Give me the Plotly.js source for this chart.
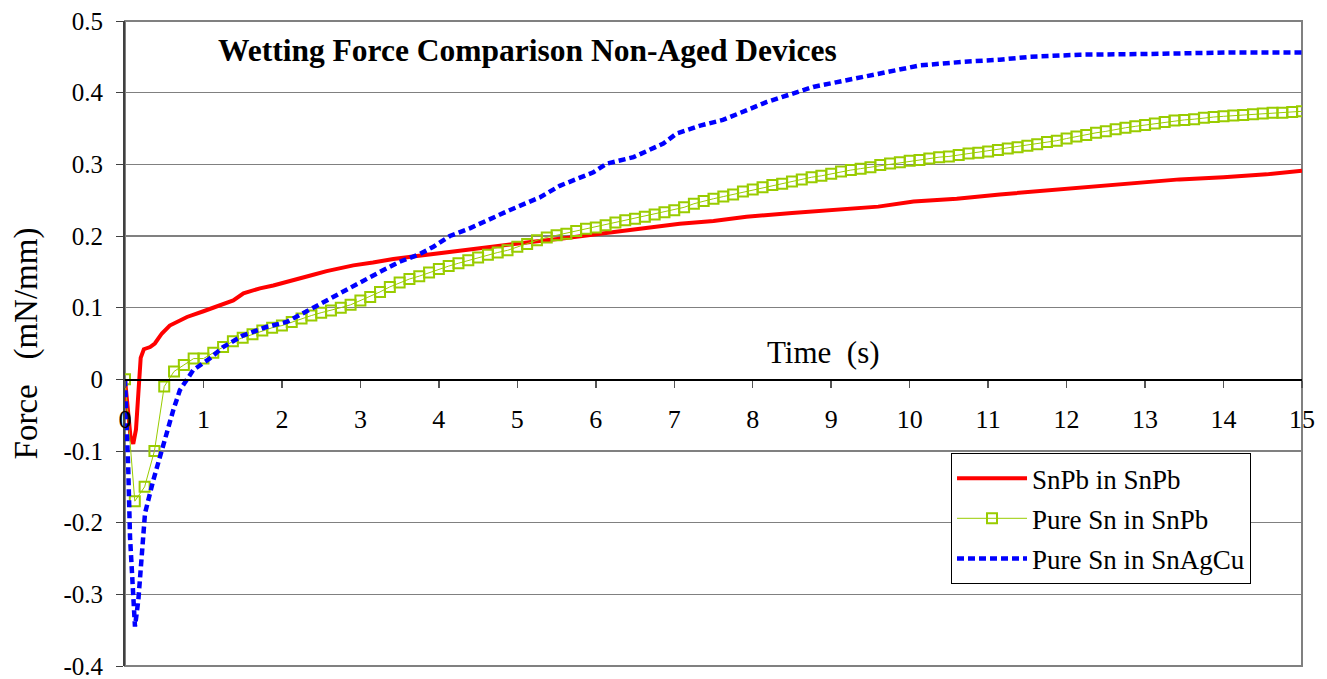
<!DOCTYPE html>
<html>
<head>
<meta charset="utf-8">
<script src="https://cdn.plot.ly/plotly-3.0.1.min.js"></script>
<style>html,body{margin:0;padding:0;background:#fff;}#chart{width:1327px;height:679px;}</style>
</head>
<body>
<div id="chart"></div>
<script>
// SnPb in SnPb
var snpbT = [0, 0.03, 0.07, 0.105, 0.14, 0.17, 0.2, 0.24, 0.32, 0.38, 0.47, 0.57, 0.7, 0.79, 1.0, 1.21, 1.38, 1.51, 1.72, 1.89, 2.14, 2.4, 2.57, 2.91, 3.16, 3.42, 3.72, 4.0, 4.4, 4.78, 5.2, 5.6, 6.05, 6.5, 7.07, 7.5, 7.92, 8.5, 9.2, 9.6, 10.05, 10.6, 11.15, 11.6, 12.17, 12.8, 13.44, 14.0, 14.55, 15.0];
var snpbF = [0, -0.04, -0.08, -0.09, -0.07, -0.02, 0.03, 0.042, 0.045, 0.05, 0.064, 0.075, 0.082, 0.087, 0.095, 0.104, 0.110, 0.120, 0.127, 0.131, 0.139, 0.146, 0.151, 0.159, 0.163, 0.168, 0.172, 0.176, 0.181, 0.187, 0.192, 0.197, 0.203, 0.209, 0.217, 0.221, 0.227, 0.232, 0.238, 0.241, 0.248, 0.252, 0.258, 0.262, 0.268, 0.273, 0.279, 0.282, 0.286, 0.291];

// Pure Sn in SnPb (sampled every 0.125 s)
var snT = [0,0.125,0.25,0.375,0.5,0.625,0.75,0.875,1,1.125,1.25,1.375,1.5,1.625,1.75,1.875,2,2.125,2.25,2.375,2.5,2.625,2.75,2.875,3,3.125,3.25,3.375,3.5,3.625,3.75,3.875,4,4.125,4.25,4.375,4.5,4.625,4.75,4.875,5,5.125,5.25,5.375,5.5,5.625,5.75,5.875,6,6.125,6.25,6.375,6.5,6.625,6.75,6.875,7,7.125,7.25,7.375,7.5,7.625,7.75,7.875,8,8.125,8.25,8.375,8.5,8.625,8.75,8.875,9,9.125,9.25,9.375,9.5,9.625,9.75,9.875,10,10.125,10.25,10.375,10.5,10.625,10.75,10.875,11,11.125,11.25,11.375,11.5,11.625,11.75,11.875,12,12.125,12.25,12.375,12.5,12.625,12.75,12.875,13,13.125,13.25,13.375,13.5,13.625,13.75,13.875,14,14.125,14.25,14.375,14.5,14.625,14.75,14.875,15];
var snF = [0,-0.170,-0.150,-0.100,-0.010,0.011,0.020,0.029,0.029,0.037,0.045,0.053,0.058,0.063,0.068,0.072,0.075,0.080,0.085,0.089,0.093,0.096,0.100,0.104,0.110,0.115,0.122,0.129,0.135,0.140,0.144,0.149,0.154,0.158,0.162,0.166,0.170,0.174,0.177,0.180,0.185,0.189,0.194,0.198,0.201,0.203,0.207,0.210,0.212,0.215,0.219,0.222,0.224,0.227,0.230,0.233,0.236,0.240,0.245,0.249,0.252,0.255,0.258,0.262,0.265,0.268,0.271,0.273,0.276,0.279,0.282,0.284,0.287,0.290,0.292,0.294,0.296,0.299,0.301,0.303,0.305,0.306,0.308,0.310,0.311,0.313,0.315,0.316,0.318,0.320,0.322,0.324,0.326,0.328,0.331,0.333,0.336,0.339,0.341,0.344,0.346,0.349,0.351,0.353,0.355,0.357,0.359,0.361,0.362,0.363,0.365,0.366,0.367,0.368,0.369,0.370,0.371,0.372,0.372,0.373,0.374];

// Pure Sn in SnAgCu
var sacT = [0, 0.022, 0.042, 0.064, 0.098, 0.127, 0.17, 0.2, 0.255, 0.36, 0.468, 0.615, 0.7, 0.87, 1.08, 1.25, 1.5, 1.8, 2.06, 2.28, 2.49, 2.91, 3.25, 3.5, 3.76, 3.93, 4.14, 4.4, 4.65, 4.9, 5.29, 5.54, 5.97, 6.14, 6.48, 6.86, 7.03, 7.33, 7.62, 8.18, 8.77, 9.2, 9.7, 10.13, 10.68, 11.15, 11.53, 12.17, 13.02, 14.08, 15.0];
var sacF = [0, -0.057, -0.127, -0.22, -0.29, -0.345, -0.308, -0.257, -0.187, -0.141, -0.099, -0.043, -0.015, 0.013, 0.029, 0.045, 0.061, 0.073, 0.080, 0.093, 0.106, 0.131, 0.150, 0.164, 0.175, 0.185, 0.200, 0.211, 0.224, 0.236, 0.254, 0.270, 0.289, 0.301, 0.310, 0.329, 0.343, 0.354, 0.362, 0.387, 0.408, 0.417, 0.429, 0.438, 0.443, 0.446, 0.450, 0.453, 0.454, 0.456, 0.456];

var xTickVals = [0,1,2,3,4,5,6,7,8,9,10,11,12,13,14,15];
var xTickText = ["0","1","2","3","4","5","6","7","8","9","10","11","12","13","14","15"];
var yTickVals = [0.5,0.4,0.3,0.2,0.1,0,-0.1,-0.2,-0.3,-0.4];
var yTickText = ["0.5","0.4","0.3","0.2","0.1","0","-0.1","-0.2","-0.3","-0.4"];

var seriesNames = ["SnPb in SnPb", "Pure Sn in SnPb", "Pure Sn in SnAgCu"];
var chartTitle = "Wetting Force Comparison Non-Aged Devices";
var xTitle = "Time  (s)";
var yTitle = "Force   (mN/mm)";

var font = "Times New Roman, Liberation Serif, DejaVu Serif, serif";

var traces = [
  {x: snpbT, y: snpbF, name: seriesNames[0], legendgroup: 'a', mode: 'lines', line: {color: '#FF0000', width: 4}},
  {x: snT, y: snF, name: seriesNames[1], legendgroup: 'b', mode: 'lines+markers', line: {color: '#99CC00', width: 1},
   marker: {symbol: 'square-open', size: 10, color: '#99CC00', line: {width: 2, color: '#99CC00'}}},
  {x: sacT, y: sacF, name: seriesNames[2], legendgroup: 'c', mode: 'lines', line: {color: '#0000FF', width: 4.5, dash: '7px,4px'}}
];

var layout = {
  width: 1327, height: 679,
  margin: {l: 125, r: 25, t: 21, b: 13},
  paper_bgcolor: '#ffffff', plot_bgcolor: '#ffffff',
  font: {family: font, size: 22, color: '#000'},
  showlegend: true,
  legend: {x: 0.7018, y: 0.33, xanchor: 'left', yanchor: 'top', bgcolor: '#fff', bordercolor: '#000', borderwidth: 1,
           font: {family: font, size: 27, color: '#000'}, tracegroupgap: 2, itemwidth: 70},
  title: {text: '<b>' + chartTitle + '</b>', x: 0.079, xref: 'paper', xanchor: 'left', y: 0.955, yref: 'paper', yanchor: 'middle',
          font: {family: font, size: 31.5, color: '#000'}},
  xaxis: {range: [0, 15], anchor: 'free', position: 4/9, tickmode: 'array', tickvals: xTickVals, ticktext: xTickText,
          showgrid: false, zeroline: false, showline: true, linecolor: '#000', linewidth: 1.5,
          ticks: 'outside', ticklen: 7, tickcolor: '#555', tickwidth: 1.5, tickfont: {family: font, size: 26, color: '#000'},
          ticklabeloverflow: 'allow', ticklabelstandoff: 9},
  yaxis: {range: [-0.4, 0.5], tickmode: 'array', tickvals: yTickVals, ticktext: yTickText,
          showgrid: true, gridcolor: '#808080', gridwidth: 1.5, zeroline: true, zerolinecolor: '#000', zerolinewidth: 1.5,
          showline: true, linecolor: '#404040', linewidth: 2, ticks: 'outside', ticklen: 7, tickcolor: '#404040',
          tickfont: {family: font, size: 25, color: '#000'}, ticklabeloverflow: 'allow', ticklabelstandoff: 8,
          title: {text: yTitle, font: {family: font, size: 33, color: '#000'}, standoff: 16}},
  shapes: [
    {type: 'rect', xref: 'paper', yref: 'paper', x0: 0, x1: 1, y0: 0, y1: 1, line: {color: '#808080', width: 2}, fillcolor: 'rgba(0,0,0,0)', layer: 'below'}
  ],
  annotations: [
    {text: xTitle, xref: 'paper', yref: 'paper', x: (823 - 125) / 1177, y: (666 - 353) / 645, showarrow: false,
     xanchor: 'center', yanchor: 'middle', font: {family: font, size: 31, color: '#000'}}
  ]
};

Plotly.newPlot('chart', traces, layout, {staticPlot: true, displayModeBar: false});
</script>
</body>
</html>
